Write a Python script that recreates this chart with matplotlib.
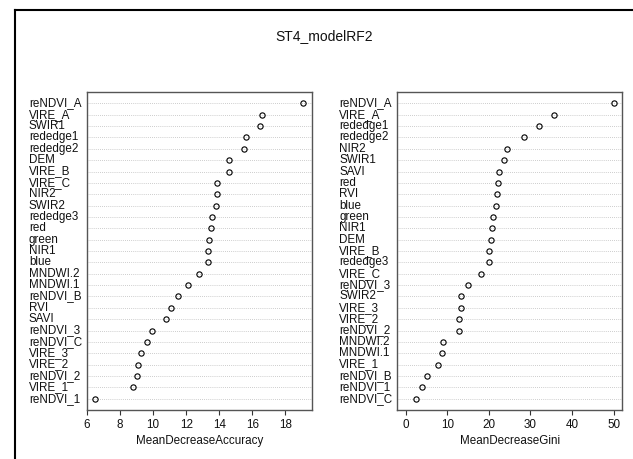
import numpy as np
import matplotlib
matplotlib.use("Agg")
import matplotlib.pyplot as plt
from matplotlib.lines import Line2D

plt.rcParams['font.family'] = ['Liberation Sans', 'DejaVu Sans']

# Data (top row first, as in the chart)
acc_names = ["reNDVI_A", "VIRE_A", "SWIR1", "rededge1", "rededge2", "DEM", "VIRE_B",
             "VIRE_C", "NIR2", "SWIR2", "rededge3", "red", "green", "NIR1", "blue",
             "MNDWI.2", "MNDWI.1", "reNDVI_B", "RVI", "SAVI", "reNDVI_3", "reNDVI_C",
             "VIRE_3", "VIRE_2", "reNDVI_2", "VIRE_1", "reNDVI_1"]
acc_values = [19.09, 16.59, 16.47, 15.60, 15.50, 14.57, 14.59, 13.84, 13.84, 13.80,
              13.58, 13.48, 13.38, 13.33, 13.30, 12.79, 12.10, 11.50, 11.07, 10.79,
              9.94, 9.62, 9.24, 9.11, 9.05, 8.77, 6.51]

gini_names = ["reNDVI_A", "VIRE_A", "rededge1", "rededge2", "NIR2", "SWIR1", "SAVI",
              "red", "RVI", "blue", "green", "NIR1", "DEM", "VIRE_B", "rededge3",
              "VIRE_C", "reNDVI_3", "SWIR2", "VIRE_3", "VIRE_2", "reNDVI_2", "MNDWI.2",
              "MNDWI.1", "VIRE_1", "reNDVI_B", "reNDVI_1", "reNDVI_C"]
gini_values = [50.1, 35.6, 32.0, 28.5, 24.3, 23.7, 22.5, 22.2, 21.9, 21.8, 21.0, 20.7,
               20.5, 20.1, 20.05, 18.2, 15.1, 13.3, 13.2, 12.9, 12.85, 9.0, 8.7, 7.8,
               5.1, 4.0, 2.5]

acc_ticks = [6, 8, 10, 12, 14, 16, 18]
gini_ticks = [0, 10, 20, 30, 40, 50]

W, H = 633, 459
fig = plt.figure(figsize=(W / 100, H / 100), dpi=100)
fs = 8.4
txt_col = '#111111'


def dot_panel(rect, names, values, xmin, ticks, xlabel, label_x):
    ax = fig.add_axes(rect)
    n = len(names)
    ys = np.arange(n, 0, -1)
    lo, hi = xmin, max(values)
    pad = (hi - lo) * 0.04
    ax.set_xlim(lo - pad, hi + pad)
    ax.set_ylim(0, n + 1)
    for y in ys:
        ax.axhline(y, color='#bdbdbd', lw=0.6, ls=(0, (1, 1.5)), zorder=1)
    ax.plot(values, ys, 'o', ms=3.8, mfc='none', mec='black', mew=0.8, zorder=3)
    ax.set_yticks([])
    ax.set_xticks(ticks)
    ax.set_xticklabels([str(t) for t in ticks])
    ax.tick_params(axis='x', length=3.6, width=0.8, color='#333333', pad=3,
                   labelsize=fs, labelcolor=txt_col)
    for s in ax.spines.values():
        s.set_color('#555555')
        s.set_linewidth(1.0)
    ax.set_xlabel(xlabel, fontsize=fs, color=txt_col, labelpad=3)
    tr = ax.get_yaxis_transform()
    for name, y in zip(names, ys):
        ax.text(label_x, y, name, transform=tr, ha='left', va='center',
                fontsize=fs, color=txt_col)
    return ax


bottom = 1 - 410 / H
height = (410 - 92) / H
dot_panel([87 / W, bottom, 224.7 / W, height], acc_names, acc_values,
          min(acc_values), acc_ticks, "MeanDecreaseAccuracy", (29 - 87) / 224.7)
dot_panel([397.3 / W, bottom, 225 / W, height], gini_names, gini_values,
          0, gini_ticks, "MeanDecreaseGini", (339 - 397.3) / 225)

fig.text(324 / W, 1 - 36 / H, "ST4_modelRF2", ha='center', va='center',
         fontsize=10, color=txt_col)

# outer frame of the screenshot
fx, fy = 14.5 / W, 1 - 9.5 / H
fig.add_artist(Line2D([fx, fx], [0, fy], transform=fig.transFigure, color='black', lw=1.5))
fig.add_artist(Line2D([fx, 1], [fy, fy], transform=fig.transFigure, color='black', lw=1.5))

fig.savefig("out.png", dpi=100)
